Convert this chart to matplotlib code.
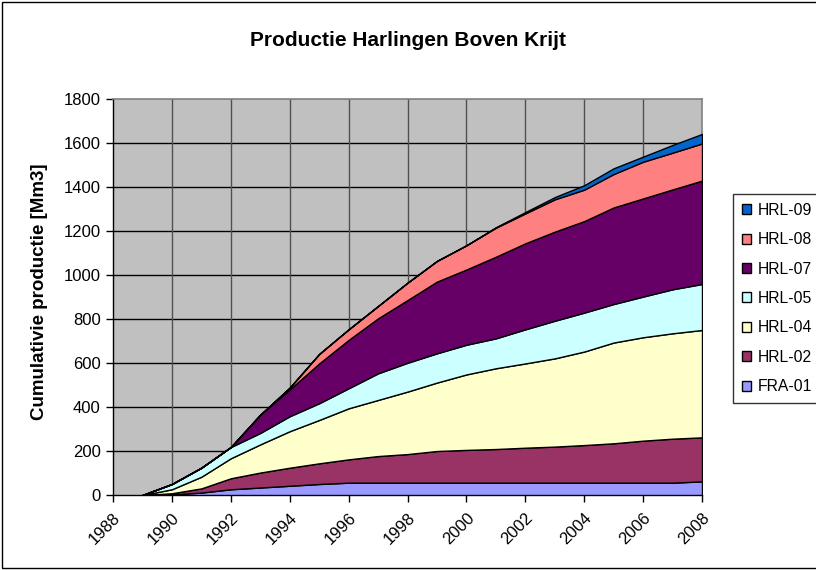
import matplotlib
matplotlib.use("Agg")
import matplotlib.pyplot as plt
from matplotlib.patches import Patch, Rectangle

plt.rcParams['font.family'] = ['Liberation Sans', 'DejaVu Sans']

years = list(range(1989, 2009))
series_names = ["FRA-01", "HRL-02", "HRL-04", "HRL-05", "HRL-07", "HRL-08", "HRL-09"]
fra01 = [0, 3, 11, 26, 34, 42, 50, 56, 56, 56, 56, 56, 56, 56, 56, 56, 56, 56, 56, 62]
hrl02 = [0, 5, 19, 50, 68, 82, 94, 106, 121, 130, 144, 149, 153, 159, 164, 171, 179, 191, 200, 200]
hrl04 = [0, 18, 53, 91, 128, 166, 197, 232, 255, 284, 311, 343, 367, 383, 401, 425, 458, 470, 479, 488]
hrl05 = [0, 24, 41, 51, 52, 68, 76, 91, 121, 131, 133, 135, 136, 155, 171, 177, 175, 185, 200, 209]
hrl07 = [0, 0, 0, 0, 83, 122, 181, 220, 250, 285, 326, 342, 371, 391, 405, 416, 439, 446, 454, 470]
hrl08 = [0, 0, 0, 0, 0, 8, 43, 48, 56, 79, 94, 110, 132, 136, 147, 143, 152, 167, 167, 169]
hrl09 = [0, 0, 0, 0, 0, 0, 0, 0, 0, 0, 0, 0, 2, 6, 10, 20, 26, 23, 35, 43]
colors = ["#9999FF", "#993366", "#FFFFCC", "#CCFFFF", "#660066", "#FF8080", "#0066CC"]

title = "Productie Harlingen Boven Krijt"
ylabel = "Cumulativie productie [Mm3]"
xticks = list(range(1988, 2009, 2))
yticks = list(range(0, 1801, 200))

W, H = 816, 570
fig = plt.figure(figsize=(W / 100, H / 100), dpi=100)
ax = fig.add_axes([113 / W, 1 - 495 / H, (702 - 113) / W, (495 - 99) / H])
ax.set_facecolor("#C0C0C0")

data = [fra01, hrl02, hrl04, hrl05, hrl07, hrl08, hrl09]
ax.stackplot(years, *data, colors=colors, edgecolor="black", linewidth=1.0, zorder=3)

ax.set_xlim(1988, 2008)
ax.set_ylim(0, 1800)
ax.set_xticks(xticks)
ax.set_xticklabels([str(x) for x in xticks], rotation=45, ha="right", rotation_mode="anchor", fontsize=12)
ax.set_yticks(yticks)
ax.set_yticklabels([str(y) for y in yticks], fontsize=12)
ax.tick_params(axis="both", direction="out", length=5, width=1, color="black", pad=4)
ax.tick_params(axis="x", pad=6)

for y in yticks[1:-1]:
    ax.axhline(y, color="black", lw=1, zorder=1)
for x in xticks[1:-1]:
    ax.axvline(x, color="#505050", lw=1, zorder=1)

for s in ["top", "right"]:
    ax.spines[s].set_color("#808080")
    ax.spines[s].set_linewidth(1.2)
for s in ["left", "bottom"]:
    ax.spines[s].set_color("black")
    ax.spines[s].set_linewidth(1.0)

fig.text(40 / W, 1 - 292 / H, ylabel, ha="center", va="center", rotation=90,
         fontsize=13.5, fontweight="bold")
fig.text(408 / W, 1 - 40 / H, title, ha="center", va="center", fontsize=15, fontweight="bold")

handles = [Patch(facecolor=c, edgecolor="black", linewidth=1) for c in colors][::-1]
labels = series_names[::-1]
leg = fig.legend(handles, labels, loc="upper left", bbox_to_anchor=(733 / W, 1 - 194 / H),
                 bbox_transform=fig.transFigure, fontsize=11.3, frameon=True, fancybox=False,
                 edgecolor="black", handlelength=0.6, handleheight=0.6, handletextpad=0.45,
                 labelspacing=0.92, borderpad=0.55, borderaxespad=0)
leg.get_frame().set_linewidth(1.0)

fig.patches.append(Rectangle((2 / W, 2 / H), 1, 1 - 4 / H, transform=fig.transFigure,
                             fill=False, edgecolor="black", linewidth=1))

fig.savefig("out.png", dpi=100)
